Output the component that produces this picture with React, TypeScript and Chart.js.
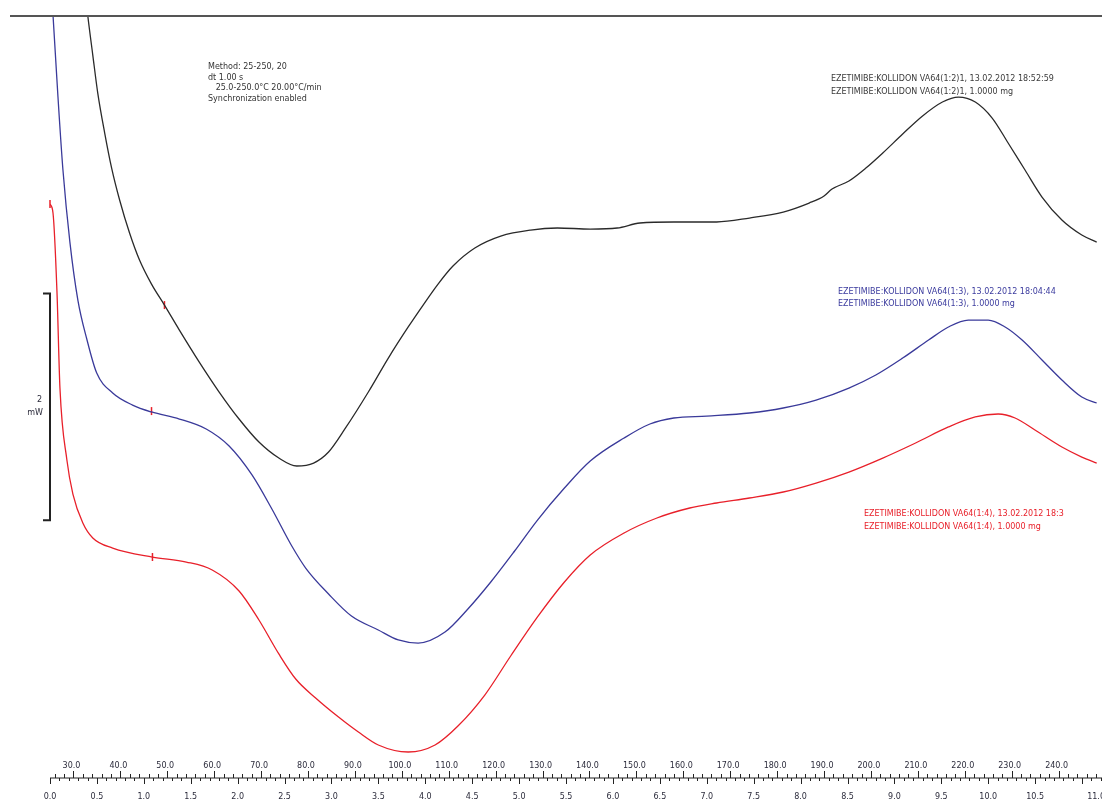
import { useEffect, useRef } from 'react';
import { Chart, registerables } from 'chart.js';

Chart.register(...registerables);

// time in min (x), heat flow in mW with an arbitrary offset (y)
const blackT = [0.361, 0.403, 0.456, 0.509, 0.583, 0.657, 0.742, 0.848, 0.954, 1.082, 1.22, 1.379, 1.591, 1.803, 2.015, 2.227, 2.439, 2.63, 2.81, 2.969, 3.15, 3.393, 3.606, 3.818, 3.977, 4.136, 4.295, 4.528, 4.804, 5.122, 5.408, 5.758, 6.045, 6.288, 6.649, 7.105, 7.455, 7.815, 8.091, 8.25, 8.335, 8.515, 8.696, 8.876, 9.088, 9.3, 9.512, 9.682, 9.862, 10.042, 10.212, 10.392, 10.573, 10.785, 10.997, 11.156];
const blackV = [7.031, 6.714, 6.37, 6.035, 5.683, 5.374, 5.093, 4.802, 4.564, 4.352, 4.167, 3.947, 3.665, 3.401, 3.163, 2.96, 2.819, 2.749, 2.775, 2.872, 3.084, 3.401, 3.7, 3.974, 4.167, 4.352, 4.511, 4.67, 4.775, 4.828, 4.846, 4.837, 4.846, 4.89, 4.899, 4.899, 4.934, 4.987, 5.066, 5.128, 5.189, 5.26, 5.374, 5.507, 5.674, 5.833, 5.956, 6.0, 5.956, 5.815, 5.595, 5.357, 5.119, 4.916, 4.784, 4.722];

const blueT = [0.011, 0.032, 0.085, 0.138, 0.212, 0.297, 0.392, 0.498, 0.668, 0.88, 1.082, 1.379, 1.665, 1.909, 2.153, 2.365, 2.577, 2.725, 2.969, 3.213, 3.499, 3.712, 3.924, 4.21, 4.454, 4.698, 4.952, 5.196, 5.483, 5.758, 6.119, 6.394, 6.649, 6.999, 7.455, 7.815, 8.165, 8.515, 8.802, 9.088, 9.364, 9.576, 9.788, 10.0, 10.18, 10.361, 10.573, 10.785, 10.997, 11.156];
const blueV = [7.031, 6.722, 6.0, 5.357, 4.722, 4.211, 3.868, 3.568, 3.392, 3.286, 3.225, 3.163, 3.075, 2.925, 2.67, 2.37, 2.044, 1.85, 1.621, 1.427, 1.304, 1.216, 1.189, 1.286, 1.489, 1.727, 2.0, 2.273, 2.555, 2.793, 2.996, 3.119, 3.172, 3.189, 3.216, 3.26, 3.33, 3.436, 3.551, 3.7, 3.859, 3.974, 4.035, 4.035, 3.974, 3.859, 3.683, 3.507, 3.357, 3.304];

const redT = [0.0, 0.032, 0.074, 0.106, 0.18, 0.244, 0.35, 0.456, 0.668, 1.092, 1.453, 1.729, 2.015, 2.227, 2.439, 2.619, 2.831, 3.075, 3.287, 3.499, 3.818, 4.104, 4.348, 4.634, 4.91, 5.196, 5.483, 5.758, 6.119, 6.469, 6.819, 7.105, 7.455, 7.815, 8.165, 8.515, 8.876, 9.226, 9.576, 9.862, 10.106, 10.286, 10.498, 10.785, 10.997, 11.156];
const redV = [5.057, 4.978, 4.291, 3.436, 2.802, 2.502, 2.247, 2.115, 2.026, 1.947, 1.903, 1.833, 1.648, 1.392, 1.093, 0.872, 0.705, 0.537, 0.405, 0.291, 0.229, 0.291, 0.458, 0.731, 1.075, 1.419, 1.727, 1.965, 2.159, 2.291, 2.379, 2.423, 2.467, 2.52, 2.599, 2.696, 2.819, 2.952, 3.093, 3.181, 3.207, 3.172, 3.066, 2.916, 2.828, 2.775];

// integration limit markers "1"
const markerT = [0.0, 1.22, 1.082, 1.092];
const markerV = [5.057, 4.167, 3.233, 1.947];

// axis ticks: time (min) below, temperature (°C) above
const timeTicks = [0.0, 0.5, 1.0, 1.5, 2.0, 2.5, 3.0, 3.5, 4.0, 4.5, 5.0, 5.5, 6.0, 6.5, 7.0, 7.5, 8.0, 8.5, 9.0, 9.5, 10.0, 10.5, 11.0];
const tempTicks = [30, 40, 50, 60, 70, 80, 90, 100, 110, 120, 130, 140, 150, 160, 170, 180, 190, 200, 210, 220, 230, 240];
const startTemp = 25;
const heatingRate = 20; // °C/min

const scaleBarBase = 2.27; // mW
const scaleBarSize = 2; // mW

const methodText = ['Method: 25-250, 20', 'dt 1.00 s', '   25.0-250.0°C 20.00°C/min', 'Synchronization enabled'];
const blackLabel = ['EZETIMIBE:KOLLIDON VA64(1:2)1, 13.02.2012 18:52:59', 'EZETIMIBE:KOLLIDON VA64(1:2)1, 1.0000 mg'];
const blueLabel = ['EZETIMIBE:KOLLIDON VA64(1:3), 13.02.2012 18:04:44', 'EZETIMIBE:KOLLIDON VA64(1:3), 1.0000 mg'];
const redLabel = ['EZETIMIBE:KOLLIDON VA64(1:4), 13.02.2012 18:3', 'EZETIMIBE:KOLLIDON VA64(1:4), 1.0000 mg'];

const W = 1140;
const H = 805;
const FONT = '8px "DejaVu Sans", Verdana, sans-serif';

const zip = (t: number[], v: number[]) => t.map((x, i) => ({ x, y: v[i] }));

const decorPlugin = {
  id: 'decor',
  afterDraw(chart: any) {
    const ctx = chart.ctx as CanvasRenderingContext2D;
    const xs = chart.scales.x;
    const ys = chart.scales.y;
    const area = chart.chartArea;
    ctx.save();

    // top frame line
    ctx.strokeStyle = '#555';
    ctx.lineWidth = 2;
    ctx.beginPath();
    ctx.moveTo(10, area.top);
    ctx.lineTo(W, area.top);
    ctx.stroke();

    // bottom axis line
    const yAxis = area.bottom;
    ctx.strokeStyle = '#222';
    ctx.lineWidth = 1.2;
    ctx.beginPath();
    ctx.moveTo(area.left, yAxis);
    ctx.lineTo(W, yAxis);
    ctx.stroke();

    ctx.lineWidth = 1;
    // time ticks (down)
    for (let i = 0; i <= 115; i++) {
      const t = i / 10;
      const px = Math.round(xs.getPixelForValue(t)) + 0.5;
      const len = i % 5 === 0 ? 6 : 3;
      ctx.beginPath();
      ctx.moveTo(px, yAxis);
      ctx.lineTo(px, yAxis + len);
      ctx.stroke();
    }
    // temperature ticks (up)
    for (let T = 26; T <= 256; T += 2) {
      const t = (T - startTemp) / heatingRate;
      const px = Math.round(xs.getPixelForValue(t)) + 0.5;
      const len = T % 10 === 0 ? 7 : 4;
      ctx.beginPath();
      ctx.moveTo(px, yAxis);
      ctx.lineTo(px, yAxis - len);
      ctx.stroke();
    }

    ctx.font = FONT;
    ctx.fillStyle = '#2b2b3b';
    ctx.textAlign = 'center';
    ctx.textBaseline = 'middle';
    timeTicks.forEach((t) => {
      ctx.fillText(t.toFixed(1), xs.getPixelForValue(t) + (t >= 11 ? 14 : 0), yAxis + 19);
    });
    tempTicks.forEach((T) => {
      const t = (T - startTemp) / heatingRate;
      ctx.fillText(T.toFixed(1), xs.getPixelForValue(t) - 2, yAxis - 12);
    });

    // scale bar (2 mW)
    const yb0 = ys.getPixelForValue(scaleBarBase);
    const yb1 = ys.getPixelForValue(scaleBarBase + scaleBarSize);
    const xb = area.left;
    ctx.strokeStyle = '#222';
    ctx.lineWidth = 2;
    ctx.beginPath();
    ctx.moveTo(xb - 7, yb1);
    ctx.lineTo(xb, yb1);
    ctx.lineTo(xb, yb0);
    ctx.lineTo(xb - 7, yb0);
    ctx.stroke();
    ctx.textAlign = 'right';
    ctx.fillStyle = '#2b2b3b';
    ctx.fillText(String(scaleBarSize), xb - 8, (yb0 + yb1) / 2 - 7);
    ctx.fillText('mW', xb - 7, (yb0 + yb1) / 2 + 6);

    // text blocks
    ctx.textAlign = 'left';
    ctx.fillStyle = '#333';
    methodText.forEach((s, i) => ctx.fillText(s, 208, 67 + i * 10.5));
    ctx.fillStyle = '#3a3a3a';
    blackLabel.forEach((s, i) => ctx.fillText(s, 831, 79 + i * 12.5));
    ctx.fillStyle = '#3b3b9e';
    blueLabel.forEach((s, i) => ctx.fillText(s, 838, 292 + i * 11.5));
    ctx.fillStyle = '#e8202a';
    redLabel.forEach((s, i) => ctx.fillText(s, 864, 514 + i * 12.5));

    ctx.restore();
  },
};

export default function App() {
  const ref = useRef<HTMLCanvasElement | null>(null);
  useEffect(() => {
    if (!ref.current) return;
    const xMax = (W - 50) / 94.3;
    const chart = new Chart(ref.current, {
      type: 'line',
      data: {
        datasets: [
          {
            label: 'VA64(1:2)',
            data: zip(blackT, blackV),
            borderColor: '#2a2a2a',
            borderWidth: 1.3,
            pointRadius: 0,
            cubicInterpolationMode: 'monotone',
          },
          {
            label: 'VA64(1:3)',
            data: zip(blueT, blueV),
            borderColor: '#3a3a9a',
            borderWidth: 1.3,
            pointRadius: 0,
            cubicInterpolationMode: 'monotone',
          },
          {
            label: 'VA64(1:4)',
            data: zip(redT, redV),
            borderColor: '#e8202a',
            borderWidth: 1.3,
            pointRadius: 0,
            cubicInterpolationMode: 'monotone',
          },
          {
            type: 'scatter',
            label: 'limits',
            data: zip(markerT, markerV),
            borderColor: '#e8202a',
            backgroundColor: '#e8202a',
            borderWidth: 1.5,
            pointStyle: 'line',
            rotation: 90,
            pointRadius: 4,
            clip: false,
          } as any,
        ],
      },
      options: {
        responsive: false,
        animation: false,
        events: [],
        layout: { padding: { left: 50, top: 16, right: 0, bottom: 27 } },
        plugins: { legend: { display: false }, tooltip: { enabled: false } },
        scales: {
          x: { type: 'linear', min: 0, max: xMax, display: false },
          y: { type: 'linear', min: 0, max: 6.714, display: false },
        },
      },
      plugins: [decorPlugin],
    });
    return () => chart.destroy();
  }, []);

  return (
    <div style={{ position: 'fixed', left: 0, top: 0, width: 1102, height: 805, overflow: 'hidden', background: '#fff' }}>
      <canvas ref={ref} width={W} height={H} style={{ width: W, height: H, display: 'block' }} />
    </div>
  );
}
